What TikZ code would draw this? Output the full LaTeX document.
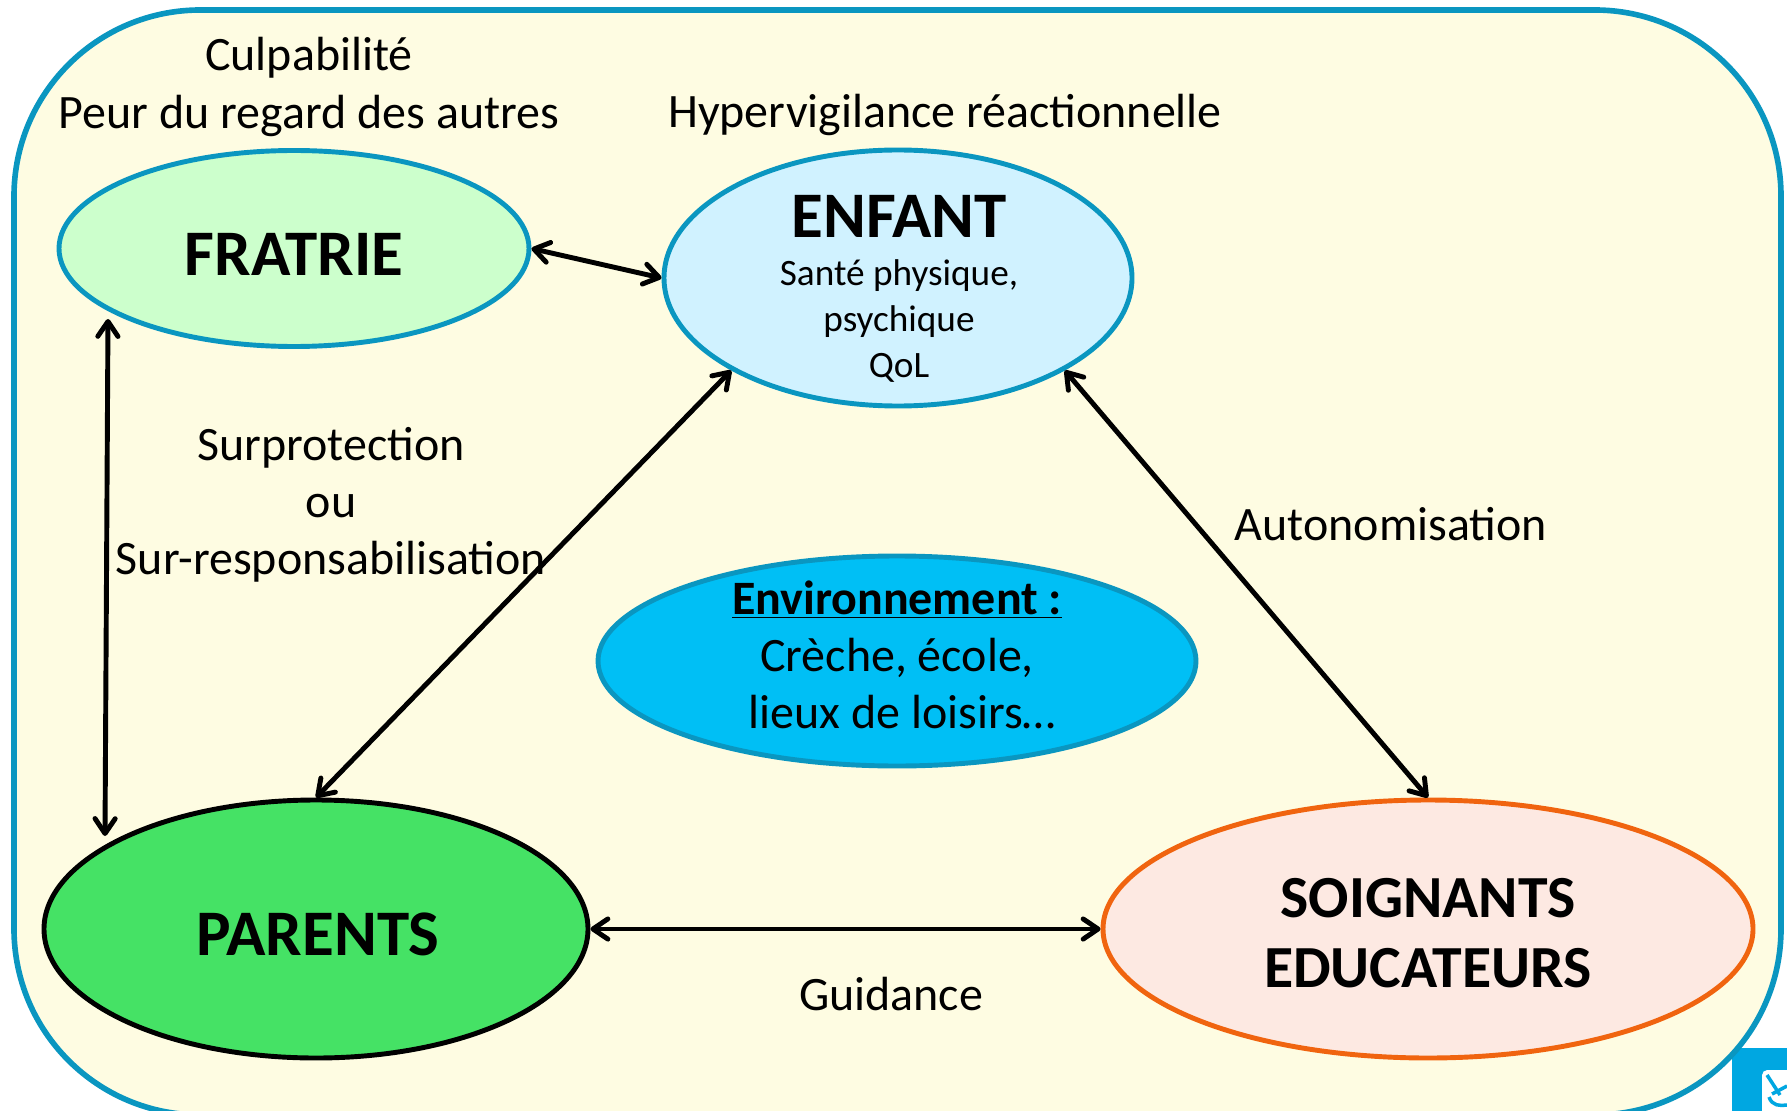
\documentclass[tikz,border=0pt]{standalone}
\usepackage{fontspec}
\setmainfont{Carlito}
\usetikzlibrary{arrows.meta,shapes.geometric}
\definecolor{framecol}{HTML}{0A96C0}
\definecolor{panelcol}{HTML}{FEFCE2}
\definecolor{fratriecol}{HTML}{CCFFCC}
\definecolor{enfantcol}{HTML}{D0F2FF}
\definecolor{envcol}{HTML}{00BFF5}
\definecolor{parentscol}{HTML}{45E265}
\definecolor{soincol}{HTML}{FDE9E2}
\definecolor{soinline}{HTML}{F0640F}
\definecolor{logocol}{HTML}{00A7E1}
\tikzset{
  bubble/.style={ellipse,draw,line width=2.8pt,inner sep=0pt},
  bigname/.style={align=center,inner sep=0pt,font=\fontsize{37}{40}\selectfont\bfseries},
  note/.style={align=center,inner sep=0pt,font=\fontsize{27.3}{32.5}\selectfont},
  link/.style={<->,>={Straight Barb[round,length=8.5pt,width=11.5pt]},line width=2.8pt}
}
\begin{document}
\begin{tikzpicture}[x=0.02cm,y=-0.02cm]
      \useasboundingbox (0,0) rectangle (1787,1111);
      \fill[logocol] (1732,1048) rectangle (1787,1111);
      \fill[white,rounded corners=3pt] (1762,1070) rectangle (1800,1120);
      \draw[logocol,line width=2pt] (1767,1075) -- (1780,1095) (1787,1086) -- (1772,1094) (1769,1097) .. controls (1772,1106) and (1780,1106) .. (1787,1105);
      \node (panel) [rectangle,draw=framecol,fill=panelcol,line width=3.2pt,rounded corners=106pt,minimum width=1767*0.02cm,minimum height=1105*0.02cm] at (897.5,562.5) {};

      \node (fratrie) [bubble,draw=framecol,fill=fratriecol,minimum width=470*0.02cm,minimum height=196*0.02cm] at (294,248.5) {};
      \node (enfant) [bubble,draw=framecol,fill=enfantcol,minimum width=468*0.02cm,minimum height=256*0.02cm] at (898,278) {};
      \node (env) [bubble,draw=framecol,fill=envcol,minimum width=598*0.02cm,minimum height=210*0.02cm] at (897,661) {};
      \node (parents) [bubble,draw=black,fill=parentscol,minimum width=544*0.02cm,minimum height=258*0.02cm] at (316,929) {};
      \node (soin) [bubble,draw=soinline,fill=soincol,minimum width=650*0.02cm,minimum height=258*0.02cm] at (1428,929) {};

      \node (fratriename) [bigname] at (294,254) {FRATRIE};
      \node (parentsname) [bigname] at (318,934) {PARENTS};
      \node (soinname) [bigname,font=\fontsize{34}{39.6}\selectfont\bfseries] at (1428,933) {SOIGNANTS\\EDUCATEURS};
      \node (enfantname) [bigname] at (899,216) {ENFANT};
      \node (enfanttext) [note,font=\fontsize{21.2}{26.4}\selectfont] at (899,321) {Santé physique,\\psychique\\QoL};
      \node (envtext) [note] at (897,655) {\textbf{\underline{Environnement :}}\\Crèche, école,\\\hspace{6pt}lieux de loisirs…};

      \node (culpa) [note] at (309,87) {Culpabilité\\Peur du regard des autres};
      \node (hyper) [note] at (945,115) {Hypervigilance réactionnelle};
      \node (surpro) [note] at (331,505) {Surprotection\\ou\\Sur-responsabilisation};
      \node (auto) [note] at (1391,524) {Autonomisation};
      \node (guid) [note] at (891,994) {Guidance};

      \coordinate (fratriefoot) at (108,319);
      \coordinate (parentshead) at (105,836);
      \draw[link] (fratrie.east) -- (enfant.west);
      \draw[link] (fratriefoot) -- (parentshead);
      \draw[link] (parents.north) -- (enfant.209);
      \draw[link] (enfant.-29) -- (soin.north);
      \draw[link] (parents.east) -- (soin.west);
\end{tikzpicture}
\end{document}
